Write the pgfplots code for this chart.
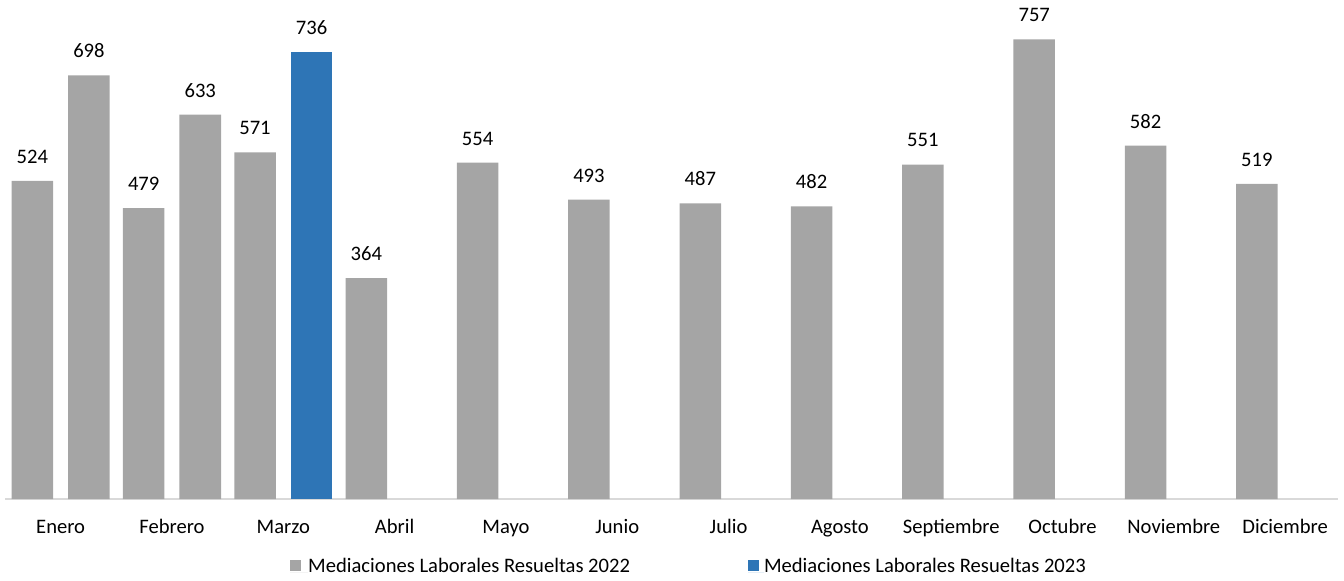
\documentclass[border=0pt]{standalone}
\usepackage{pgfplots}
\pgfplotsset{compat=1.18}
\usepackage{fontspec}
\setmainfont{Carlito}
\definecolor{g22}{HTML}{A5A5A5}
\definecolor{b23}{HTML}{2E75B6}
\definecolor{axl}{HTML}{D9D9D9}
\begin{document}
\begin{tikzpicture}
\path[use as bounding box] (-2.5pt,-40.5pt) rectangle (669.5pt,249.5pt);
\begin{axis}[
  at={(0pt,0pt)}, anchor=south west,
  width=666.5pt, height=249.5pt, scale only axis,
  xmin=-0.5, xmax=11.475, ymin=0, ymax=822,
  axis x line*=bottom, axis y line=none,
  x axis line style={draw=axl, line width=1pt},
  xtick={0,1,2,3,4,5,6,7,8,9,10,11},
  xticklabels={Enero,Febrero,Marzo,Abril,Mayo,Junio,Julio,Agosto,Septiembre,Octubre,Noviembre,Diciembre},
  major tick length=0pt,
  xtick style={draw=none},
  xticklabel style={anchor=base, yshift=-17pt, inner sep=0pt, font=\fontsize{10.3}{12}\selectfont},
  ytick=\empty,
  clip=false,
  nodes near coords,
  /pgf/number format/assume math mode=true,
  nodes near coords style={font=\fontsize{10.3}{12}\selectfont, anchor=south, inner sep=0pt, yshift=8.5pt, text=black},
  legend columns=2,
  legend style={at={(0.5124,-0.1323)}, anchor=center, draw=none, fill=none, inner sep=0pt,
    column sep=0pt, nodes={inner sep=0pt, text depth=0pt},
    cells={anchor=base west},
    font=\fontsize{10.3}{12}\selectfont,
    /tikz/every even column/.append style={column sep=59pt}},
]
\addplot[ybar, bar width=0.373, bar shift=-0.254, fill=g22, draw=none,
  every node near coord/.append style={xshift=-14.14pt},
  legend image code/.code={\fill[g22] (0pt,0.5pt) rectangle (5.5pt,6pt); \path (0pt,0pt) -- (9pt,0pt);}]
  coordinates {(0,524) (1,479) (2,571) (3,364) (4,554) (5,493) (6,487) (7,482) (8,551) (9,757) (10,582) (11,519)};
\addlegendentry{Mediaciones Laborales Resueltas 2022}
\addplot[ybar, bar width=0.373, bar shift=0.254, fill=b23, draw=none,
  every node near coord/.append style={xshift=14.14pt},
  legend image code/.code={\fill[b23] (0pt,0.5pt) rectangle (5.5pt,6pt); \path (0pt,0pt) -- (8pt,0pt);}]
  coordinates {(2,736)};
\addlegendentry{Mediaciones Laborales Resueltas 2023}
\addplot[ybar, bar width=0.373, bar shift=0.254, fill=g22, draw=none, forget plot,
  every node near coord/.append style={xshift=14.14pt}]
  coordinates {(0,698) (1,633)};
\end{axis}
\end{tikzpicture}
\end{document}
